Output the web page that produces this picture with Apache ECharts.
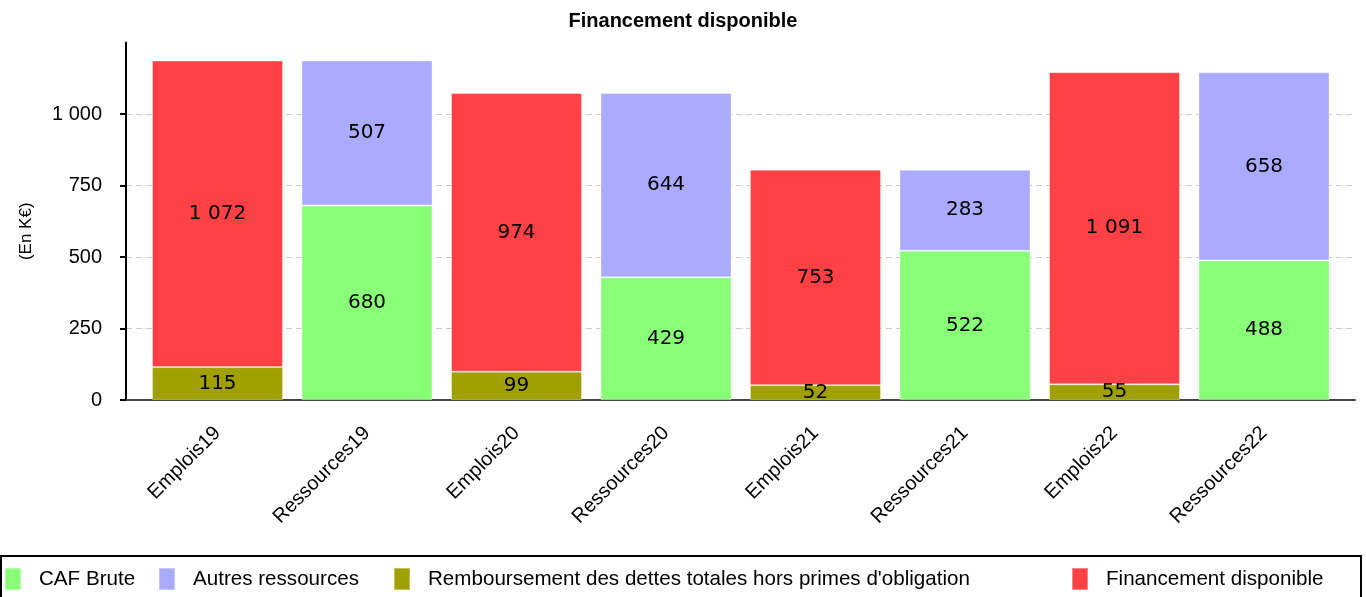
<!DOCTYPE html>
<html>
<head>
<meta charset="utf-8">
<title>Financement disponible</title>
<script src="https://cdn.jsdelivr.net/npm/echarts/dist/echarts.min.js"></script>
<style>
  html, body { margin: 0; padding: 0; background: #fff; }
  #chart { width: 1366px; height: 597px; }
</style>
</head>
<body>
<div id="chart"></div>
<script>
// données (En K€)
const categories = ["Emplois19", "Ressources19", "Emplois20", "Ressources20", "Emplois21", "Ressources21", "Emplois22", "Ressources22"];
const cafBrute = [null, 680, null, 429, null, 522, null, 488];
const autresRessources = [null, 507, null, 644, null, 283, null, 658];
const remboursement = [115, null, 99, null, 52, null, 55, null];
const financement = [1072, null, 974, null, 753, null, 1091, null];

const seriesNames = ["CAF Brute", "Autres ressources", "Remboursement des dettes totales hors primes d'obligation", "Financement disponible"];
const colors = ["#88ff77", "#aaaaff", "#a0a000", "#ff4044"];

const arialFont = "'Liberation Sans', Arial, sans-serif";
const dejaFont = "'DejaVu Sans', sans-serif";

function fmt(v) {
  return String(v).replace(/\B(?=(\d{3})+(?!\d))/g, " ");
}

function barSeries(name, data, color) {
  return {
    name,
    type: "bar",
    stack: "total",
    data,
    barWidth: 131,
    itemStyle: { color, borderColor: "rgba(255,255,255,0.35)", borderWidth: 1 },
    label: {
      show: true,
      position: "inside",
      color: "#000",
      fontFamily: dejaFont,
      fontSize: 20,
      formatter: (p) => fmt(p.value),
    },
    emphasis: { disabled: true },
  };
}

const legendPos = [4, 158, 393, 1071];

const chart = echarts.init(document.getElementById("chart"));
chart.setOption({
  animation: false,
  title: {
    text: "Financement disponible",
    left: "center",
    top: 6,
    textStyle: { fontFamily: arialFont, fontWeight: "bold", fontSize: 20, color: "#000" },
  },
  grid: [
    // zone des barres
    { left: 142.75, right: 27.25, top: 42.5, bottom: 197 },
    // fond : lignes de grille pointillées et axe du bas
    { left: 126, right: 11, top: 42.5, bottom: 197 },
  ],
  xAxis: [
    {
      type: "category",
      gridIndex: 0,
      data: categories,
      axisLine: { show: false },
      axisTick: { show: false },
      axisLabel: {
        rotate: 45,
        margin: 30,
        color: "#000",
        fontFamily: arialFont,
        fontSize: 20,
        interval: 0,
      },
    },
    {
      type: "value",
      gridIndex: 1,
      min: 0,
      max: 1,
      axisLine: { show: true, lineStyle: { color: "#444", width: 2 } },
      axisTick: { show: false },
      axisLabel: { show: false },
      splitLine: { show: false },
    },
  ],
  yAxis: [
    {
      type: "value",
      gridIndex: 0,
      min: 0,
      max: 1250,
      interval: 250,
      offset: 16.75,
      name: "(En K€)",
      nameLocation: "middle",
      nameRotate: 90,
      nameGap: 91,
      nameTextStyle: { fontFamily: arialFont, fontSize: 17, color: "#000", padding: [0, 20, 0, 0] },
      axisLine: { show: true, lineStyle: { color: "#000", width: 2 } },
      axisTick: { show: true, length: 6, lineStyle: { color: "#000", width: 2 } },
      axisLabel: {
        showMaxLabel: false,
        margin: 24,
        color: "#000",
        fontFamily: arialFont,
        fontSize: 20,
        formatter: fmt,
      },
      splitLine: { show: false },
    },
    {
      type: "value",
      gridIndex: 1,
      min: 0,
      max: 1250,
      interval: 250,
      axisLine: { show: false },
      axisTick: { show: false },
      axisLabel: { show: false },
      splitLine: {
        show: true,
        showMaxLine: false,
        lineStyle: { color: "#cccccc", type: [6, 4], width: 1 },
      },
    },
  ],
  legend: seriesNames.map((name, i) => ({
    data: [name],
    left: legendPos[i],
    top: 567,
    padding: 0,
    icon: "rect",
    itemWidth: 16,
    itemHeight: 22,
    selectedMode: false,
    textStyle: { fontFamily: arialFont, fontSize: 20.6, color: "#000", padding: [0, 0, 0, 13] },
  })),
  graphic: [
    {
      type: "rect",
      shape: { x: 1, y: 556, width: 1360, height: 48 },
      style: { fill: "none", stroke: "#000", lineWidth: 2 },
      silent: true,
    },
  ],
  series: [
    barSeries(seriesNames[0], cafBrute, colors[0]),
    barSeries(seriesNames[1], autresRessources, colors[1]),
    barSeries(seriesNames[2], remboursement, colors[2]),
    barSeries(seriesNames[3], financement, colors[3]),
  ],
});
</script>
</body>
</html>
